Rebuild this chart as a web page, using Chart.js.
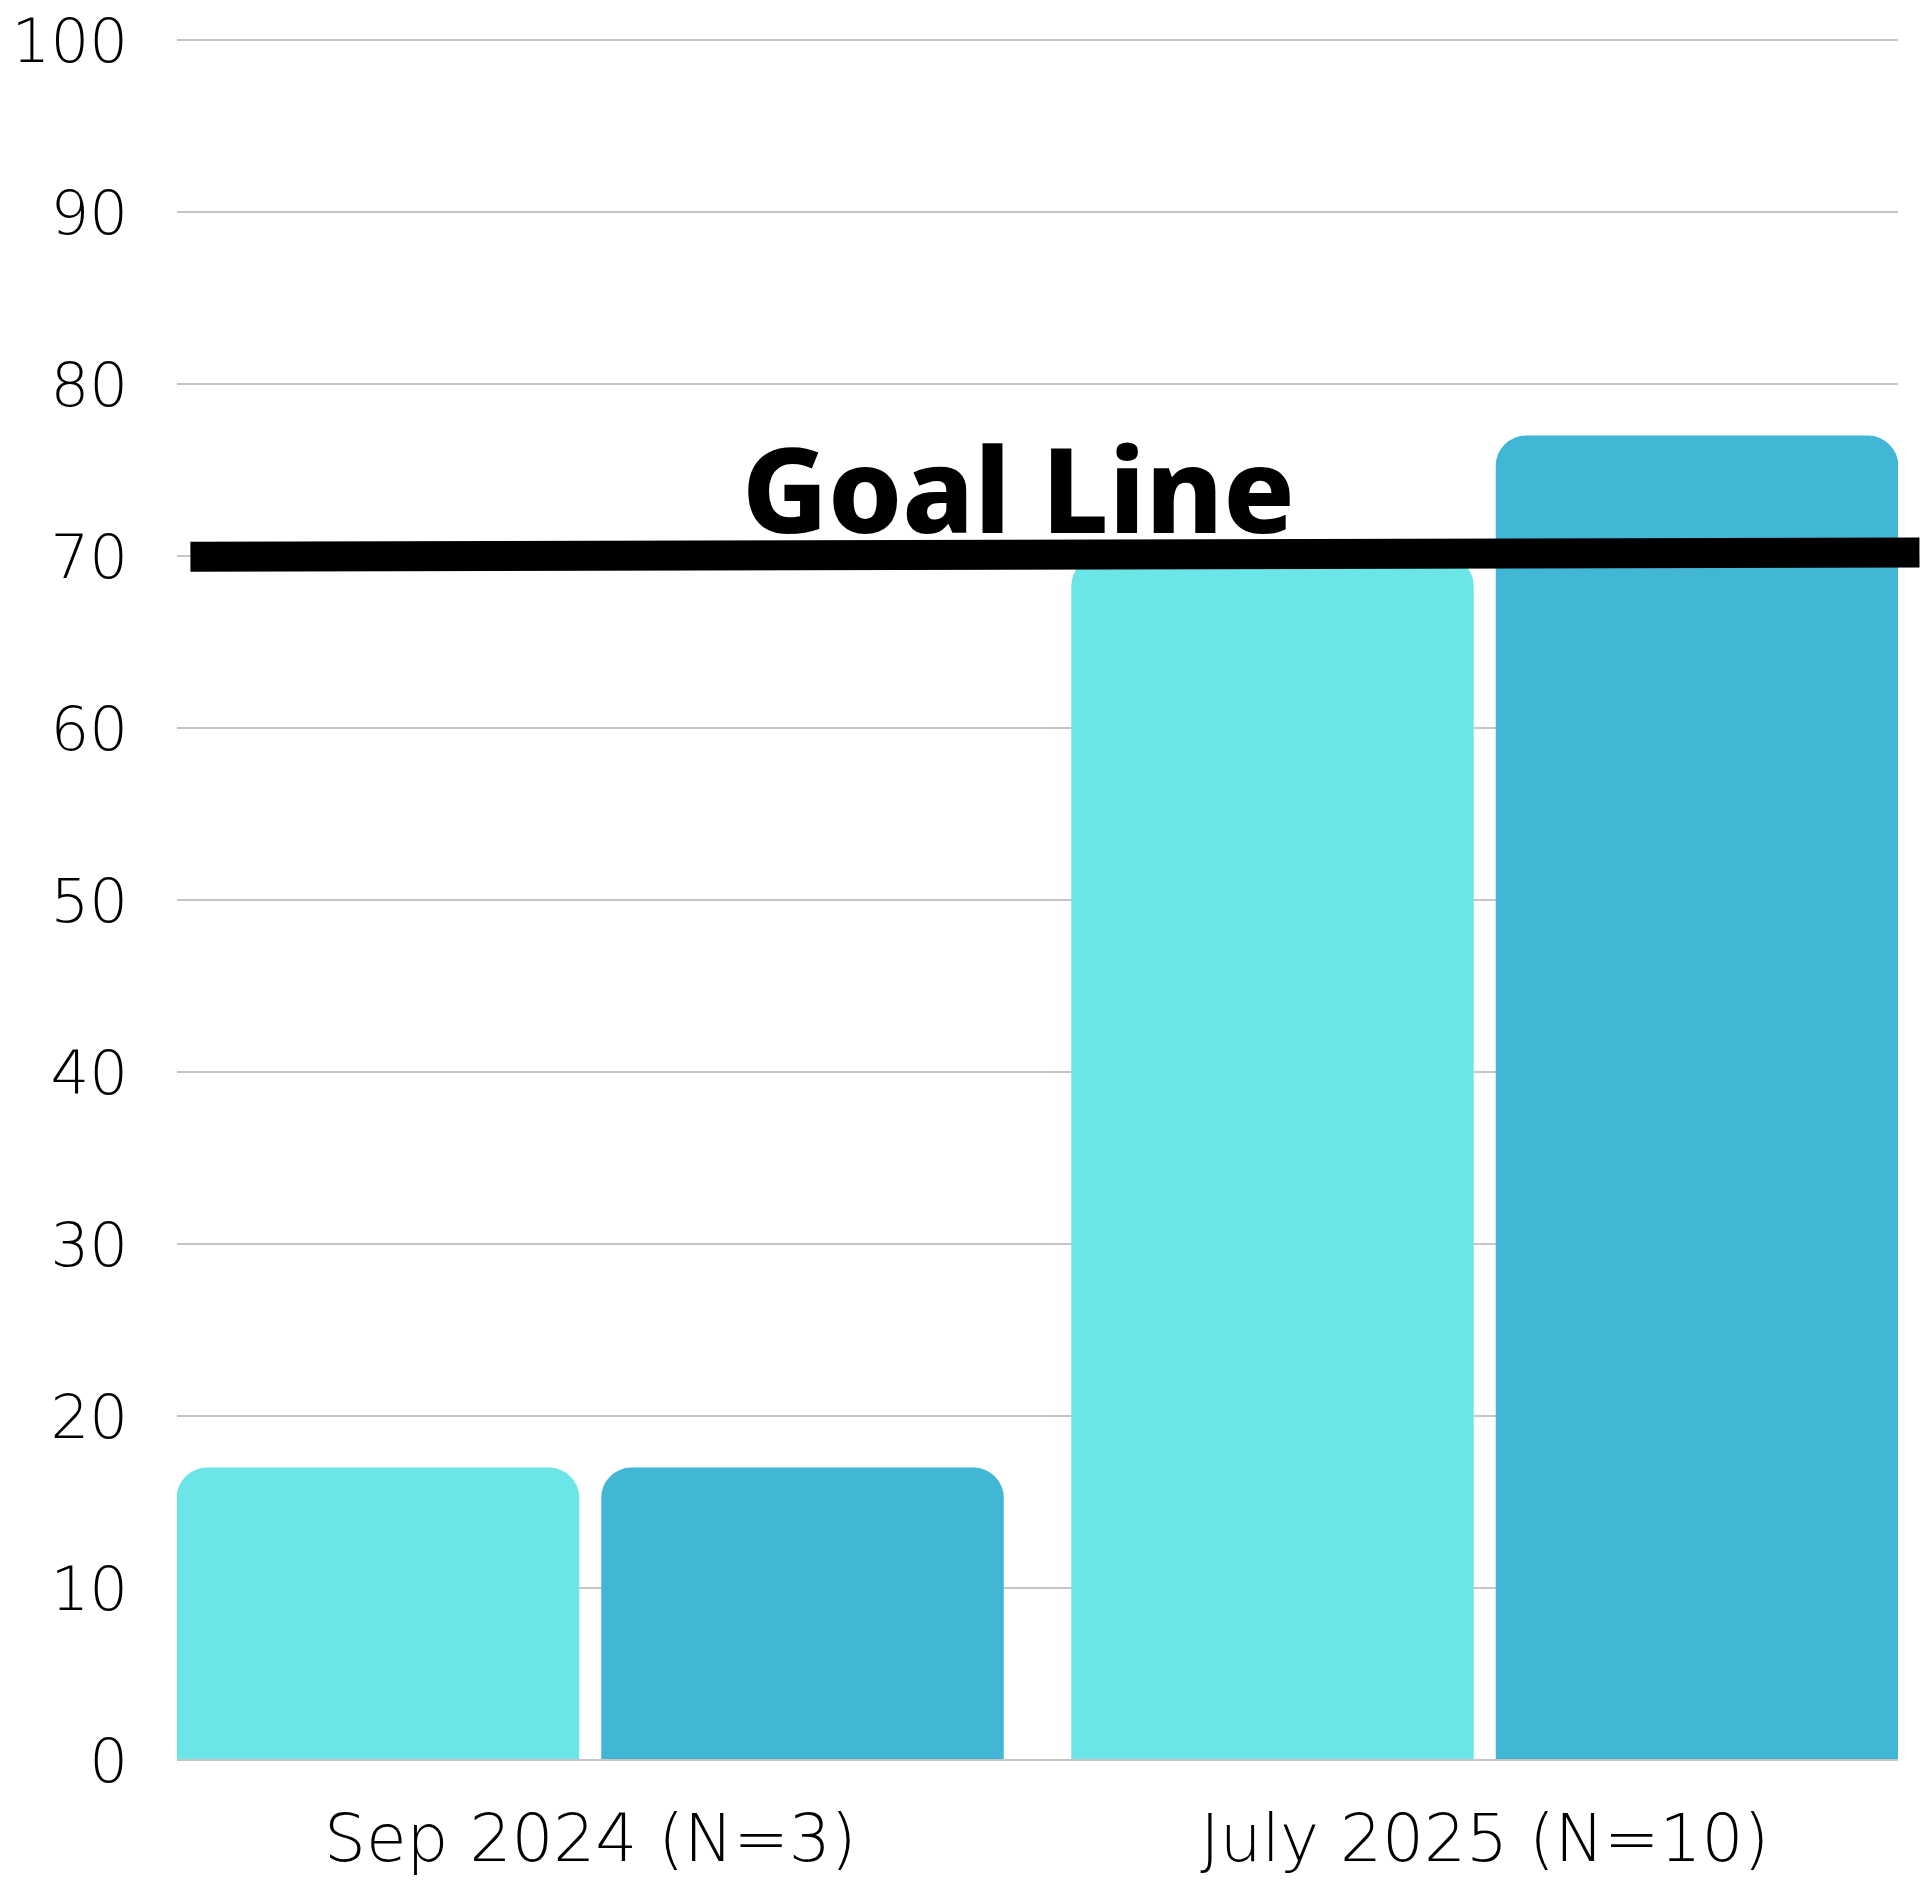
<!DOCTYPE html>
<html>
<head>
<meta charset="utf-8">
<script src="https://cdn.jsdelivr.net/npm/chart.js@4.4.1/dist/chart.umd.min.js"></script>
<style>
  html, body { margin: 0; padding: 0; background: #ffffff; }
  #wrap { width: 1920px; height: 1891px; position: relative; }
</style>
</head>
<body>
<div id="wrap"><canvas id="chart" width="1920" height="1891"></canvas></div>
<script>
// Survey periods shown along the x axis
const categories = ['Sep 2024 (N=3)', 'July 2025 (N=10)'];

// Two measures per period
const seriesLight = [17, 70];
const seriesDark = [17, 77];

// Y axis ticks
const yTicks = [0, 10, 20, 30, 40, 50, 60, 70, 80, 90, 100];

// Hand-drawn goal marker: endpoints in axis units
const goalX = [-0.447, 1.486];
const goalY = [69.95, 70.2];
const goalLabel = 'Goal Line';
const goalLabelPos = { x: 0.4785, y: 71.34 };

const xTickFont = { family: '"DejaVu Sans"', size: 66, weight: '200' };
const yTickFont = { family: '"DejaVu Sans"', size: 61, weight: '200' };

const goalText = {
  id: 'goalText',
  afterDatasetsDraw(chart) {
    const { ctx, scales } = chart;
    const px = scales.x.getPixelForValue(goalLabelPos.x);
    const py = scales.y.getPixelForValue(goalLabelPos.y);
    ctx.save();
    ctx.fillStyle = '#000000';
    ctx.font = '800 118px "Noto Sans"';
    ctx.textAlign = 'center';
    ctx.textBaseline = 'alphabetic';
    ctx.fillText(goalLabel, px, py);
    ctx.restore();
  }
};

new Chart(document.getElementById('chart'), {
  type: 'bar',
  data: {
    datasets: [
      {
        type: 'line',
        data: goalX.map((x, i) => ({ x, y: goalY[i] })),
        borderColor: '#000000',
        borderWidth: 30,
        borderCapStyle: 'butt',
        pointRadius: 0,
        tension: 0,
        clip: false,
        order: 0
      },
      {
        data: seriesLight.map((v, i) => ({ x: i, y: v })),
        backgroundColor: '#6ce5e8',
        borderWidth: 0,
        borderRadius: { topLeft: 30, topRight: 30, bottomLeft: 0, bottomRight: 0 },
        borderSkipped: 'bottom',
        categoryPercentage: 0.9491,
        barPercentage: 0.9482,
        order: 1
      },
      {
        data: seriesDark.map((v, i) => ({ x: i, y: v })),
        backgroundColor: '#42b6d5',
        borderWidth: 0,
        borderRadius: { topLeft: 30, topRight: 30, bottomLeft: 0, bottomRight: 0 },
        borderSkipped: 'bottom',
        categoryPercentage: 0.9491,
        barPercentage: 0.9482,
        order: 1
      }
    ]
  },
  options: {
    responsive: false,
    animation: false,
    layout: { autoPadding: false, padding: { top: 40, right: 22, bottom: 0, left: 0 } },
    plugins: { legend: { display: false }, tooltip: { enabled: false } },
    scales: {
      x: {
        type: 'linear',
        offset: false,
        min: -0.462,
        max: 1.462,
        grid: { display: false, offset: false },
        border: { display: false },
        afterBuildTicks(scale) {
          scale.ticks = categories.map((c, i) => ({ value: i }));
        },
        afterFit(scale) {
          scale.height = 131;
          scale.paddingLeft = 0;
          scale.paddingRight = 0;
        },
        ticks: {
          color: '#000000',
          font: xTickFont,
          padding: 36,
          maxRotation: 0,
          autoSkip: false,
          callback: (v) => categories[v]
        }
      },
      y: {
        min: 0,
        max: 100,
        afterBuildTicks(scale) {
          scale.ticks = yTicks.map(v => ({ value: v }));
        },
        afterFit(scale) {
          scale.width = 177;
          scale.paddingTop = 0;
          scale.paddingBottom = 0;
        },
        grid: { color: '#c6c6c6', lineWidth: 2, drawTicks: false },
        border: { display: false },
        ticks: {
          color: '#000000',
          font: yTickFont,
          padding: 49,
          labelOffset: 6
        }
      }
    }
  },
  plugins: [goalText]
});
</script>
</body>
</html>
